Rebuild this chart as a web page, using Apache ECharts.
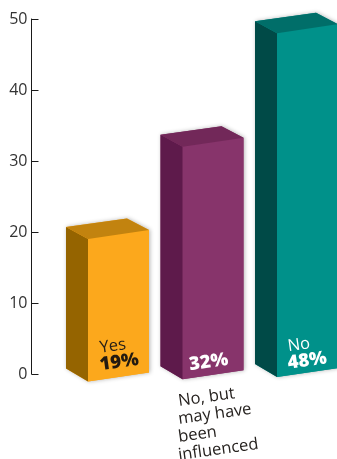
<!DOCTYPE html>
<html>
<head>
<meta charset="utf-8">
<style>html,body{margin:0;padding:0;background:#fff}#chart{width:337px;height:459px}</style>
<script src="https://cdn.jsdelivr.net/npm/echarts@6/dist/echarts.min.js"></script>
</head>
<body>
<div id="chart"></div>
<script>
const categories = ['Yes', 'No, but may have been influenced', 'No'];
const values = [19, 32, 48];
const innerNames = ['Yes', '', 'No'];
const innerNameColors = ['#2a2118', '#ffffff', '#ffffff'];
const percentColors = ['#231a10', '#ffffff', '#ffffff'];
const outerLines = [[], ['No, but', 'may have', 'been', 'influenced'], []];
const frontColors = ['#fca81c', '#87346b', '#00918a'];
const sideColors = ['#956400', '#5e1a4b', '#004a47'];
const topColors = ['#c2830f', '#722859', '#006e69'];
const labelInsets = [13, 8, 12];
const labelLifts = [0, 0, 1.5];
const yTicks = [0, 10, 20, 30, 40, 50];

// Prism proportions, in pixels
const FRONT_OFFSET = 9.25, FRONT_WIDTH = 61, DEPTH_X = 22, DEPTH_Y = 12, SLOPE_Y = 9;
const FONT = '"Open Sans", "Noto Sans", sans-serif';
const TILT = 8 * Math.PI / 180;

function tiltedText(x, y, text, size, weight, color) {
  return {
    type: 'text', x, y, rotation: TILT, silent: true,
    style: { x: 0, y: 0, text, fill: color, font: weight + ' ' + size + 'px ' + FONT,
             align: 'left', verticalAlign: 'bottom' }
  };
}

function renderPrism(params, api) {
  const i = api.value(0);
  const top = api.coord([i, api.value(1)]);
  const zero = api.coord([i, 0]);
  const x = top[0] + FRONT_OFFSET;
  // The floor of the prisms rises gently from left to right
  const baseY = zero[1] + 7.5 - (x - 88) * 0.0238;
  const yTop = top[1];
  const xR = x + FRONT_WIDTH, xL = x - DEPTH_X, dx = xR - DEPTH_X;
  const outline = [[xL, yTop - DEPTH_Y], [dx, yTop - DEPTH_Y - SLOPE_Y + 0.5], [xR, yTop - SLOPE_Y],
                   [xR, baseY - SLOPE_Y], [x, baseY], [xL, baseY - DEPTH_Y - 1]];
  const poly = (points, fill) => ({ type: 'polygon', shape: { points }, style: { fill }, silent: true });
  const children = [
    { type: 'polygon', shape: { points: outline }, silent: true,
      style: { fill: frontColors[i], shadowBlur: 4, shadowColor: 'rgba(0,0,0,0.3)', shadowOffsetX: 1, shadowOffsetY: 0 } },
    poly([[x, yTop], [xR, yTop - SLOPE_Y], [xR, baseY - SLOPE_Y], [x, baseY]], frontColors[i]),
    poly([[xL, yTop - DEPTH_Y], [x, yTop], [x, baseY], [xL, baseY - DEPTH_Y - 1]], sideColors[i]),
    poly([[xL, yTop - DEPTH_Y], [dx, yTop - DEPTH_Y - SLOPE_Y + 0.5], [xR, yTop - SLOPE_Y], [x, yTop]], topColors[i])
  ];
  const textX = x + labelInsets[i];
  const labelY = zero[1] + 0.5 - labelLifts[i];
  if (innerNames[i]) {
    children.push(tiltedText(textX, labelY - 18, innerNames[i], 16.5, 400, innerNameColors[i]));
  }
  children.push(tiltedText(textX, labelY, values[i] + '%', 18.5, 800, percentColors[i]));
  outerLines[i].forEach((line, n) => {
    children.push(tiltedText(x - 3, baseY + 30.5 + n * 18, line, 16.5, 400, '#26221f'));
  });
  return { type: 'group', children };
}

const chart = echarts.init(document.getElementById('chart'), null, { renderer: 'canvas' });
chart.setOption({
  animation: false,
  backgroundColor: '#ffffff',
  grid: { left: 31.5, top: 19, width: 283.5, height: 355 },
  xAxis: { type: 'category', data: categories, show: false },
  yAxis: {
    type: 'value', min: 0, max: 50, interval: 10,
    axisLine: { show: true, lineStyle: { color: '#1a1a1a', width: 1 } },
    axisTick: { show: true, inside: true, length: 7, lineStyle: { color: '#1a1a1a', width: 1 } },
    splitLine: { show: false },
    axisLabel: { color: '#333333', fontSize: 16, fontFamily: FONT, margin: 4,
                 formatter: v => yTicks.includes(v) ? String(v) : '' }
  },
  series: [{
    type: 'custom', clip: false, renderItem: renderPrism,
    encode: { x: 0, y: 1 },
    data: values.map((v, i) => [i, v])
  }]
});
</script>
</body>
</html>
